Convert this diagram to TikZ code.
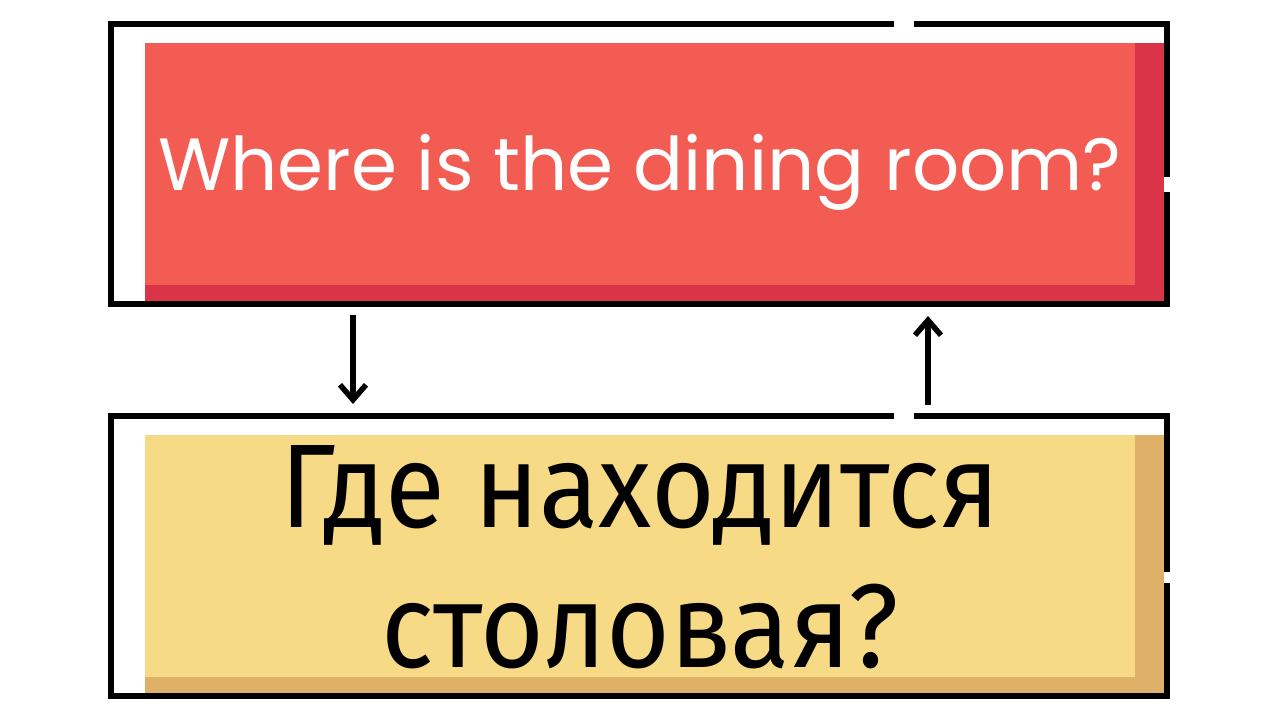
\documentclass[tikz,border=0pt]{standalone}
\usepackage{fontspec}
\newfontfamily\popfont{Poppins}
\newfontfamily\firafont{Fira Sans}
\usetikzlibrary{arrows.meta}
\definecolor{redL}{HTML}{F25C52}
\definecolor{redD}{HTML}{DA3448}
\definecolor{yelL}{HTML}{F6DA86}
\definecolor{yelD}{HTML}{DFB068}
\begin{document}
\begin{tikzpicture}[x=1pt,y=-1pt,
  frame/.style={line width=6pt,black,line join=miter,line cap=butt},
  arr/.style={line width=5.5pt,-{Straight Barb[length=15pt,width=26pt,line width=5.5pt]}},
  rutext/.style={anchor=base,text=black,font=\firafont\fontsize{119}{140}\selectfont,inner sep=0}]
\useasboundingbox (0,0) rectangle (1280,720);
% top box
\fill[redD] (145,43) rectangle (1164,301);
\fill[redL] (145,43) rectangle (1135,285);
\draw[frame] (914,24) -- (1167,24) -- (1167,177);
\draw[frame] (1167,192) -- (1167,304) -- (111,304) -- (111,24) -- (894,24);
\node[anchor=base,text=white,font=\popfont\fontsize{74}{80}\selectfont,inner sep=0] (q) at (640,190) {Where is the dining room?};
% bottom box
\fill[yelD] (145,435) rectangle (1164,693);
\fill[yelL] (145,435) rectangle (1135,677);
\draw[frame] (914,416) -- (1167,416) -- (1167,572);
\draw[frame] (1167,583) -- (1167,696) -- (111,696) -- (111,416) -- (894,416);
\node[rutext] (a1) at (640,527) {\scalebox{0.92}[1]{Где находится}};
\node[rutext] (a2) at (640,667) {\scalebox{0.92}[1]{столовая?}};
% arrows
\coordinate (d1) at (353,315);
\coordinate (d2) at (353,404);
\coordinate (u1) at (928,405);
\coordinate (u2) at (928,316);
\draw[arr] (d1) -- (d2);
\draw[arr] (u1) -- (u2);
\end{tikzpicture}
\end{document}
